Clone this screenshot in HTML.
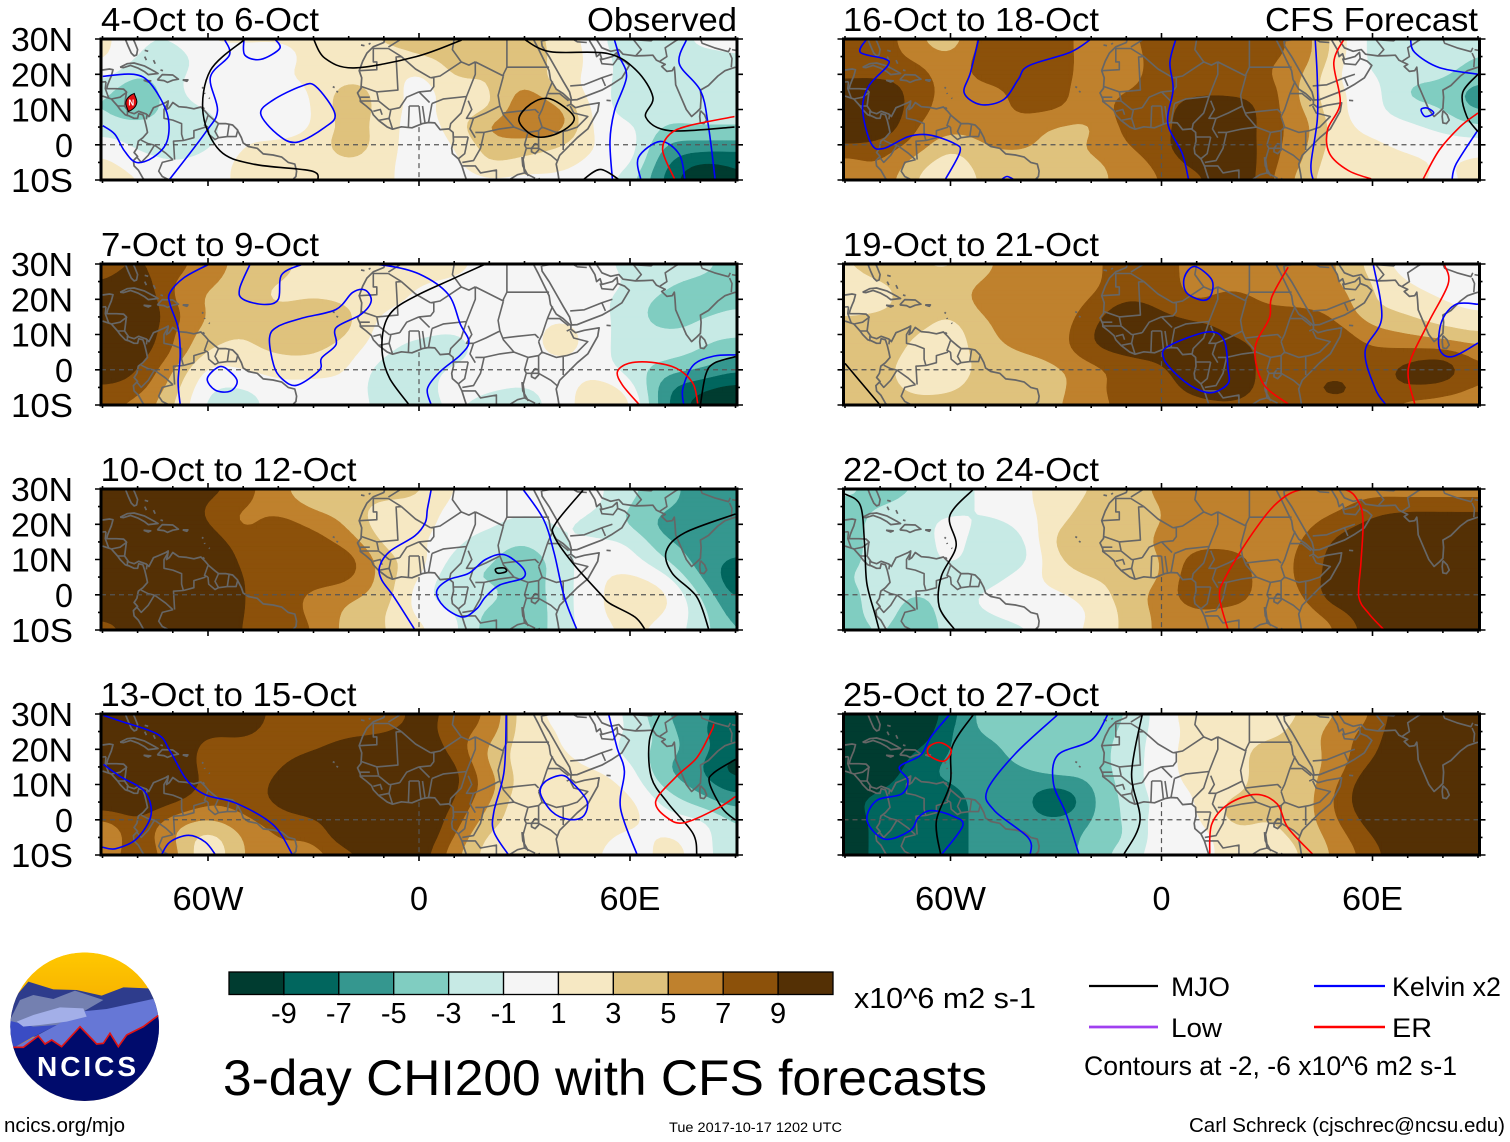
<!DOCTYPE html>
<html lang="en">
<head>
<meta charset="utf-8">
<title>3-day CHI200 with CFS forecasts</title>
<style>
html,body{margin:0;padding:0;background:#fff;}
svg{display:block;}
text{font-family:"Liberation Sans",sans-serif;fill:#000;}
</style>
</head>
<body>
<svg id="chart" xmlns="http://www.w3.org/2000/svg" width="1510" height="1142" viewBox="0 0 1510 1142">
  <rect x="0" y="0" width="1510" height="1142" fill="#fff"/>
  <g id="panels"></g>
  <g id="colorbar"></g>
  <text x="854" y="1008" font-size="29" textLength="182" lengthAdjust="spacingAndGlyphs">x10^6 m2 s-1</text>
  <text x="223" y="1095" font-size="50" textLength="764" lengthAdjust="spacingAndGlyphs">3-day CHI200 with CFS forecasts</text>
  <text x="4" y="1132" font-size="20" textLength="121" lengthAdjust="spacingAndGlyphs">ncics.org/mjo</text>
  <text x="669" y="1132" font-size="14" textLength="173" lengthAdjust="spacingAndGlyphs">Tue 2017-10-17 1202 UTC</text>
  <text x="1189" y="1132" font-size="20" textLength="316" lengthAdjust="spacingAndGlyphs">Carl Schreck (cjschrec@ncsu.edu)</text>
  <g>
    <line x1="1089" y1="986" x2="1158" y2="986" stroke="#000" stroke-width="2.2"/>
    <text x="1171" y="996" font-size="27" textLength="59" lengthAdjust="spacingAndGlyphs">MJO</text>
    <line x1="1314" y1="986" x2="1385" y2="986" stroke="#0000ff" stroke-width="2.2"/>
    <text x="1392" y="996" font-size="27" textLength="109" lengthAdjust="spacingAndGlyphs">Kelvin x2</text>
    <line x1="1089" y1="1027" x2="1158" y2="1027" stroke="#a040f0" stroke-width="2.8"/>
    <text x="1171" y="1037" font-size="27" textLength="51" lengthAdjust="spacingAndGlyphs">Low</text>
    <line x1="1314" y1="1027" x2="1385" y2="1027" stroke="#ff0000" stroke-width="2.4"/>
    <text x="1392" y="1037" font-size="27" textLength="40" lengthAdjust="spacingAndGlyphs">ER</text>
    <text x="1084" y="1075" font-size="27" textLength="373" lengthAdjust="spacingAndGlyphs">Contours at -2, -6 x10^6 m2 s-1</text>
  </g>
  <g>
    <defs>
      <clipPath id="logoClip"><circle cx="254" cy="290" r="223"/></clipPath>
      <linearGradient id="skyGrad" x1="0" y1="0" x2="0" y2="1"><stop offset="0" stop-color="#ffc800"/><stop offset="0.3" stop-color="#f8b400"/><stop offset="0.5" stop-color="#e89a10"/></linearGradient>
    </defs>
    <g transform="translate(0,930) scale(0.33333)" clip-path="url(#logoClip)">
      <circle cx="254" cy="290" r="223" fill="url(#skyGrad)"/>
      <polygon points="20,230 85,155 160,178 230,180 305,197 370,172 445,175 490,210 490,320 20,320" fill="#2e3c8c"/>
      <polygon points="20,290 60,210 100,195 160,207 225,182 310,210 250,245 170,285 40,300" fill="#7480b0"/>
      <polygon points="490,200 320,237 240,245 170,285 30,360 490,380" fill="#6677d6"/>
      <polygon points="20,270 100,290 170,285 100,320 30,360" fill="#3a4cc4"/>
      <polygon points="50,275 100,255 180,232 250,235 260,260 200,275 120,285 70,290" fill="#a3afe8"/>
      <polygon points="20,352 70,352 115,318 135,342 155,330 185,350 240,290 290,342 310,340 330,310 355,350 380,315 430,290 490,245 490,530 20,530" fill="#000b6c"/>
      <polyline points="20,352 70,352 115,318 135,342 155,330 185,350 240,290 290,342 310,340 330,310 355,350 380,315 430,290 490,245" fill="none" stroke="#e01414" stroke-width="5"/>
    </g>
    <text x="37" y="1076" font-size="28" font-weight="bold" textLength="99" lengthAdjust="spacing" style="fill:#fff">NCICS</text>
  </g>
</svg>
<script>
// ---- Grid axes of the CHI200 anomaly field ----
const lonGrid = [-90,-80,-70,-60,-50,-40,-30,-20,-10,0,10,20,30,40,50,60,70,80,90];
const latGrid = [30,25,20,15,10,5,0,-5,-10];
const levelsPos = [1,3,5,7,9];
const levelsNeg = [-1,-3,-5,-7,-9];
const colorbarColors = ['#003c30','#01665e','#35978f','#80cdc1','#c7eae5','#f5f5f5','#f6e8c3','#dfc27d','#bf812d','#8c510a','#543005'];
const colorbarLabels = ['-9','-7','-5','-3','-1','1','3','5','7','9'];
const latTicks = [30,20,10,0,-10];
const latTickLabels = ['30N','20N','10N','0','10S'];
const lonTicks = [-60,0,60];
const lonTickLabels = ['60W','0','60E'];
const panelTitles = ['4-Oct to 6-Oct','7-Oct to 9-Oct','10-Oct to 12-Oct','13-Oct to 15-Oct','16-Oct to 18-Oct','19-Oct to 21-Oct','22-Oct to 24-Oct','25-Oct to 27-Oct'];

// ---- CHI200 anomaly, rows by latGrid, columns by lonGrid ----
const chi1 = [
[1.5,-0.5,-0.5,1.2,1.5,1.5,1.5,2,3.5,3.5,4,4,4,2,0,-3,-3,0,-0.5],
[1.5,-1,-2.2,0,0,0,1.5,2,2,3.2,3.5,4,4,2.5,0.3,-2,-2,-2,-1],
[0,-2.5,-1.5,0,0,1,1.5,2,2,0.5,3.5,3,4,2,0.3,-2,-2,-2,-2],
[-2.5,-5,-1.5,0,0,0,1.2,4,2,0.5,1.5,3,5.5,2.5,0,-2,-2,-2,-2],
[-3,-4.5,-2,-1,0,0,1,4.5,2,0.5,2,2.5,6.5,5.5,0.5,-2,-2.2,-2,-2],
[-2,-2,-2,-1.5,0,0,1,3.5,2,0,2,6,6.5,6,0.5,-0.5,-3,-3,-3],
[0,-1.5,-2,-1.5,1,1.5,2,4.5,2,0,1,3.5,4,3,1,0,-5,-5.5,-5.5],
[1.5,0,-0.8,0,1.5,1.5,1.5,2.5,1.5,0,0.5,3.5,2.5,1.5,0.5,-0.5,-6.5,-9,-9],
[2,1.2,0,0,1.5,1.5,1.5,1.5,1.5,-0.2,0,0,0,0.5,0,-2.5,-7.5,-11,-9]];
const chi2 = [
[8,9,8,6,4.5,4,2,2,2,2,2,0,0,0,0,-2,-2,-2,-4],
[9,10,7,5.5,4,3,2,2,2,1.2,0.5,0,0,0,0,-1,-2.5,-3.5,-4],
[10,11,7,4.5,4,2.5,3,2.5,2,0.5,0,0,0,0,-0.5,-2,-3.5,-4,-3.5],
[11,11,8,5,4,4,4.5,3.5,0.5,0,0,0,0,0.5,-0.2,-2,-4,-3,-2.5],
[11,11,7,4,3,4.5,4.5,3,0,-0.5,-1,0,0,2,0,-2,-2.5,-2.5,-2.5],
[11,10,7,3,2.5,3,3,1.5,-0.5,-2,-2,0,0,1.5,0,-2,-2,-3,-4.5],
[10,9,5,0.5,1,2,2,1,-2,-2,-0.5,0,0,0,0,-2,-4,-5,-6.5],
[9,8,4,-0.5,-1,0,0,0,-2,-2,0,-0.5,-1,0,2,0,-6.5,-8.5,-9.5],
[7,6,3,-1.5,-2,0,0,0,-1.5,-1.5,-1,-2,-2,0,2,1.5,-6.5,-10,-12]];
const chi3 = [
[11,11,11,10,8,5.5,4,4,4.5,3.5,1,0,0,0,-0.5,-2.5,-4,-6,-6],
[11,11,11,8.5,7,6,4.5,4,2,2,0.5,0,0,0,-0.5,-3,-4.5,-6,-7],
[11,11,11,9,6.5,8,6.5,4.5,2,2,0,-0.5,-2,-1,-2,-3.5,-6,-6.5,-6.5],
[11,11,11,10.5,8,8,8,6,2.5,1.2,-0.5,-2,-2.5,-1,-0.5,-1,-4.5,-6,-6.5],
[11,11,11,11,8.5,8,8,8,4,2,-1.5,-2.5,-4.5,-2,0,-0.5,-3,-6,-7],
[11,11,11,11,9,8,8,7.5,4,1,-2.5,-3.5,-4,-2,0.5,1.5,-0.5,-5,-8.5],
[11,11,11,11,9,8,6.5,5.5,4,0,-2.5,-2,-4,-2,0.5,2,1.5,-3,-7.5],
[11,11,11,11,9,8,6.5,4.5,3,0.5,-0.8,-3.5,-4.5,-2,0.5,2,1,-2,-6],
[6.5,11,11,11,8.8,8,7,4.2,3.2,1.5,-0.5,-4,-4.5,-2,0,1.2,0,-2,-5]];
const chi4 = [
[8,11,11,11,11,8,6.5,8,8,9.5,8.5,6.5,2,0.5,0,-1.5,-5,-6,-9],
[11,11,11,9.5,9.5,8,8,8,8.5,9.5,8,6,2,1,0,-1,-4,-7,-8],
[11,11,11,8,8,8,8.5,10.5,11,11,8,4.5,2,1,0,-2,-3.8,-6,-8],
[11,11,11,8,8,8.8,11,11,11,11,9.5,5,2,1.5,1,-0.5,-5,-7,-10.5],
[11,11,11,8.5,8,9.5,11,11,11,11,9.5,6,2,0.5,1.5,0.3,-3.5,-6,-8],
[11,11,9.5,7.5,8,9.5,11,11,11,11,9,5,1.5,2,2,1.5,-1.5,-4,-6],
[6.5,8.5,6,5,6.5,8,8.6,11,11,11,8,4,1.8,2,2,1.5,0,-0.5,-3],
[5,8,5,2,5,7,7.5,11,11,11,7,2.5,2,1.5,1.5,0.5,1.2,0,-3],
[6,8,6,1.5,5,6.5,6,8,10,10,5.5,2,1.5,1.5,1.2,0,1.5,0.3,-3]];
const chi5 = [
[8,8,5.5,3.5,8,8,8,6,6.5,8,8,8,7.8,6,2,-1.5,-2,-2,-2.5],
[8,8,6.5,5.5,8,8,8,6,6,8,8,8,7.5,6,2,-1.5,-2,-2,-3],
[8,8,8,6,8,8,8,6,6,8,8,8,7,5,1,-1,-2,-2.5,-4],
[11,11,8,6.5,6,7.5,7.5,6,7,8,8,8,8,4.5,1.5,0,-3.5,-4,-6],
[11,11,8,6,6,7.5,7.5,6,8,8,11,11,8,5,1.5,-0.5,-2,-3,-5.5],
[11,11,7,6,6,6,4.5,4.5,7.5,8,11,11,8,6,2,0.3,-0.5,-1.5,-2.5],
[9,8,6.5,3.5,5,5.5,4.5,5.5,7,8.5,11,11,8,5.5,2,1.5,0.5,0,0],
[6,7,4,2,4,4,4,4.5,6,7.5,10,11,8,5,1.5,1.5,1.5,1,1.5],
[6,6,3,1.2,3.5,4,4,4,6,7,8,11,7.5,4,1.5,1.5,1.5,0.5,1.5]];
const chi6 = [
[3,4,3,2.5,4.5,6,6,6.5,8,8,6,6,6,6,5,2,0,0,0],
[2,3,4,4,5.2,6,6,6.5,8,8,6,6,6,6,5,3,1,0,0],
[2,2,4,4,6,6,6,7,8.5,8,7,8,6.5,6,6,3,2,1,0],
[3,3.5,4,3,5,6,6,8,11,9.5,8,8,8,8,6.5,4,3,2,1.5],
[4,4,3,2,4.5,6,6,9,11,11,11,8.5,8,8,8,6,5,4,3],
[4,4,2.5,2,4,5,6,8.5,9.5,10,11,11,8,8,8,7.5,7.5,7.5,6.5],
[4,3.5,2,2,3.5,4,4.5,6,7.5,8.5,11,11,8,8,8,8,10,11,7],
[4,4,2.2,2.5,4,4,4.5,6.5,8,8,10,11,8,8.5,10,8,9,8,7],
[4,4,4,4,4,4,5,5.5,8,8,8,8,8,8,8,8,6,6,5.5]];
const chi7 = [
[-2,-4,-3,-2,-0.5,0.5,2,3,4,5.5,6,6,4.5,6,6,6,6,6,6],
[-4,-3,-2,-2,-0.5,0.5,2,3.5,4,5,6,6,6,6,6.5,8,8,8,8],
[-4,-2,-2,0,-1.5,-0.5,2.5,4,4,5,6,6,6,6.5,8,9.5,11,11,11],
[-4,-2,-2,-0.5,-2,-1.5,3.5,4,4,5.5,6,6,6,7,9.5,11,11,11,11],
[-4,-2,-2,-0.5,-2,-2,2.5,4,4,5,8,8,6,7.5,10,11,11,11,11],
[-3,-2,-2,-2,-2,0,2,3,3.5,5,8.5,8.5,6,7.5,10,11,11,11,11],
[-4,-2,-3,-2,-0.5,0,0.5,2,4,6,8.5,8.5,6,7,11,11,11,11,11],
[-4,-2,-4,-2,-1,0,0,1,3.5,5.5,6.5,6,6,6,8,11,11,11,11],
[-4,-3,-4,-2.5,-2,-1.5,0,1.5,3.5,5.5,6,6,6,6,7,10,11,11,11]];
const chi8 = [
[-8,-11,-11,-8,-4,-4,-4,-4,-3,0,2,2,2,3,5,7,11,11,11],
[-11,-11,-11,-7,-4.5,-4,-4,-4,-2.5,0,1.5,2,2,4,6,8,11,11,11],
[-11,-11,-9,-7,-6,-4,-4,-4,-2,0,2,2,4,4,6,8.5,11,11,11],
[-11,-11,-8,-6.5,-6,-5,-4,-4,-2,0,2,2,4,4,6,9.5,11,11,11],
[-11,-9.5,-7.5,-7,-6,-6,-6,-5,-2,0,1.5,2,4,4,7,11,11,11,11],
[-9.5,-8,-8,-8,-6,-6,-10,-5.5,-2.5,-0.5,1,3.5,3.5,4,7.5,11,11,11,11],
[-11,-8,-8,-8,-6,-6,-6,-5,-2.5,0,0.8,3.5,3,4,7,10,11,11,11],
[-11,-8,-8,-8,-6,-6,-6,-4.5,-3,0,0,2,2.5,3.5,6,9,11,11,11],
[-11,-8,-8,-8,-6,-6,-6,-4,-1.8,0,0,2,2,3,5.5,8,11,11,11]];
const chiFields = [chi1,chi2,chi3,chi4,chi5,chi6,chi7,chi8];

// ---- Filtered-wave contours: lists of [lon,lat] curves for each panel ----
const kelvin1 = [
[[-89.9,19.4],[-81.1,20],[-76.3,17.3],[-71.6,8.8],[-71.6,1.1],[-75.6,-3.6],[-80.4,-5],[-83.8,-1.7],[-86.5,3],[-89.9,5.4]],
[[-70.9,-9.8],[-60.7,3.5],[-57.3,9.7],[-59.3,19.2],[-53.9,25.4],[-55.2,29.7]],
[[-49.8,29.7],[-49.5,25.4],[-45,24.2],[-39.6,27.3],[-41,30]],
[[-45,8.8],[-41.6,12.6],[-33.5,16.6],[-29.4,16.6],[-23.9,8.8],[-26.7,5],[-34.8,0.7],[-40.3,3],[-45,8.8]],
[[55,-9.8],[54.3,1.1],[55.6,9.7],[59,19.2],[57,25],[55.6,29.7]],
[[76,29.7],[74,23],[80,15.4],[82.2,5.9],[84.2,-9.8]],
[[63.1,-10],[62.4,-3.6],[68.6,0.95],[74,-2.7],[75.6,-9.8]]];
const mjo1 = [
[[-49.8,29.7],[-59.3,21.1],[-61.4,8.8],[-56.6,-1.7],[-47.1,-5.5],[-30.7,-7.4],[-28.7,-10]],
[[-30,30],[-26.7,24.5],[-18.5,21.8],[-0.8,25],[12.1,29.7]],
[[29.8,30],[37.3,26.4],[53.6,25.9],[61.8,21.1],[66.5,13.5],[64.5,7.8],[71.3,4],[89.7,5]],
[[28.4,6.9],[31.8,11.6],[37.3,13],[44.1,7.8],[40,3.5],[33.2,2.3],[28.4,6.9]],
[[46.8,-9.8],[51.6,-7],[57,-10]]];
const er1 = [
[[72.7,-9.8],[69.3,-1.7],[71.3,3],[76.7,5.4],[89.7,8]]];

const kelvin2 = [
[[-59.6,30],[-66.7,26.2],[-70.8,21.9],[-70.8,18.6],[-68.5,11.9],[-67.9,4.2],[-68.5,-3.4],[-67.9,-9.9]],
[[-48,30],[-51,23],[-50,20],[-44,18.5],[-40,20],[-39,27],[-33,30]],
[[-20,30],[-9.5,29.6],[0,27.2],[8.3,21.4],[11.8,12.8],[14.2,8],[11.8,4.2],[5.9,-0.6],[2.4,-5.4],[3.5,-10]],
[[-42.5,9],[-41.3,1.3],[-39,-2.5],[-34.8,-4.4],[-28.3,-0.1],[-27.7,3.3],[-23.6,7.1],[-23.6,11.9],[-16.5,15.7],[-13.6,19.5],[-15.3,22.6],[-18.9,21.9],[-23.6,17.1],[-33,14.7],[-40.1,12.3],[-42.5,9]],
[[-56.7,0.9],[-60.2,-2.5],[-57.9,-5.8],[-53.7,-6.1],[-51.7,-3.4],[-53.7,-0.6],[-56.7,0.9]],
[[75.3,-10],[75,-5.4],[78,1.3],[84,3.9],[90,4.2]]];
const mjo2 = [
[[18.9,30],[9.4,25.7],[0,21.4],[-7.1,17.1],[-10,11.9],[-10.4,4.2],[-8.3,-2.5],[-3,-9.7]],
[[80,-10],[81.5,-1.5],[83.8,1.8],[90,3.7]]];
const er2 = [
[[62.6,-9.9],[57.9,-4.4],[56.4,-0.6],[59.6,1.8],[66.1,2.1],[73.2,0.4],[77.9,-3.9],[79.3,-9.9]]];

const kelvin3 = [
[[3.5,30],[2.4,24.3],[1.8,20.5],[-1.2,16.7],[-8.3,12.3],[-11.2,8],[-10.6,4.2],[-7.1,-0.6],[-1.2,-9.9]],
[[24.2,11.4],[29.5,7.6],[29.5,4.7],[23,2.8],[18.9,-0.6],[16.5,-3.9],[12.4,-6.3],[7.1,-3.4],[5,0.9],[8.3,4.2],[14.2,6.1],[18.9,10],[24.2,11.4]],
[[29.5,30],[35.4,21.4],[38.4,11.9],[41.3,-0.6],[44.9,-9.9]]];
const mjo3 = [
[[21.8,7.3],[24.2,7.6],[24.8,6.6],[22.4,6.1],[21.8,7.3]],
[[46.6,29.6],[39,20.5],[38.4,16.7],[43.7,9],[51.9,-0.1],[54.3,-2.5],[61.4,-6.3],[64.3,-9.9]],
[[90,22.9],[75.6,17.6],[70.3,12.3],[72,6.1],[79,-0.6],[82.4,-9.9]]];
const er3 = [];

const kelvin4 = [
[[-89.7,29.6],[-85.6,28.2],[-74.4,24.3],[-70.8,19.5],[-66.1,11.4],[-60.8,7.1],[-52,4.7],[-41.4,-1.5],[-36,-9.9]],
[[-89.7,15.7],[-85,12.3],[-78,8],[-76.2,1.3],[-80.3,-5.4],[-86.2,-8.2],[-90,-7.8]],
[[-73.2,-9.9],[-70.8,-6.3],[-65.5,-4.4],[-60.8,-6.3],[-57.9,-9.9]],
[[24.8,30],[24.2,13.8],[21.3,2.3],[21.3,-3.4],[25.4,-9.9]],
[[40.7,12.6],[43.7,10.4],[47.8,5.2],[46.6,0.9],[42.5,0.1],[37.8,2.3],[34.5,7.6],[36,10.9],[40.7,12.6]],
[[53.9,30],[56.3,20.5],[58.4,13.8],[57.3,3.3],[62,-9.9]]];
const mjo4 = [
[[68.5,30],[65.5,22.4],[66.1,11.9],[70.8,4.7],[77.9,-3.9],[79,-9.9]],
[[90,17.1],[83.8,13.3],[82.6,10.4],[86.2,3.3],[90,-0.1]]];
const er4 = [
[[83.8,27.2],[83.2,25.3],[79,17.6],[73.2,12.3],[67.3,5.2],[70.8,0.4],[75.6,-0.8],[85,3.3],[90,6.6]]];

const kelvin5 = [
[[-83.8,30],[-85.6,26.2],[-78.5,24.3],[-77.9,22.4],[-83.2,16.7],[-85,10],[-82.6,0.4],[-79.1,-1.1],[-72,2.3],[-66.1,2.8],[-59,0.4],[-57.3,-2],[-61.4,-9.7]],
[[-52,30],[-54.3,20.5],[-56.1,14.7],[-51.4,11.4],[-44.9,12.8],[-40.7,18.6],[-37.8,22.4],[-26,26.2],[-20,30]],
[[-45.5,-9.9],[-43.9,-9],[-41.9,-9.9]],
[[4.1,30],[2.4,23.3],[3.3,15.7],[1.8,6.1],[5.9,-2.5],[7.7,-9.9]],
[[43.7,30],[44.3,18.6],[44.3,7.1],[42.5,-5.4],[43.1,-9.9]],
[[70.8,30],[72,26.2],[79,21.9],[90,20]],
[[73.8,10],[75.6,10.4],[77.4,9],[75,8],[73.8,10]],
[[82.6,-9.9],[83.8,-5.4],[90,4.2]]];
const mjo5 = [
[[90,20],[85.6,14.7],[86.8,8],[90,3.7]]];
const er5 = [
[[51.9,30],[49,23.3],[50.8,11.9],[47.2,4.2],[47.8,-2.5],[53.1,-7.3],[59.6,-9.7]],
[[74.4,-9.7],[79,-1.5],[85,5.2],[90,9]]];

const kelvin6 = [
[[9.4,29.3],[14.2,25.7],[14.2,21.4],[11.8,19.7],[7.1,21.9],[6.5,26.2],[9.4,29.3]],
[[13,10.7],[17.7,8.5],[18.9,0.4],[18.9,-3.9],[14.2,-6.5],[8.9,-4.9],[3.5,-0.6],[0.6,3.3],[1.8,6.6],[13,10.7]],
[[60.2,30],[62.6,14.7],[57.9,5.2],[60.8,-5.4],[63.8,-9.9]],
[[90,18.6],[83.8,18.6],[79.7,13.8],[79,6.1],[82.6,3.7],[90,7.6]]];
const mjo6 = [
[[-90,1.8],[-80.3,-9.7]]];
const er6 = [
[[36,29.1],[31.3,20.5],[30.7,14.7],[26.6,6.1],[28.9,-3.9],[36,-9.7]],
[[80.5,29.6],[81.5,24.3],[75.6,12.8],[70.2,0.4],[72,-9.7]]];

const kelvin7 = [];
const mjo7 = [
[[-90,28.6],[-85.6,25.3],[-84.4,13.8],[-83.8,3.3],[-81.5,-5.4],[-80.3,-9.9]],
[[-53.4,30],[-60.2,22.4],[-58.4,13.8],[-62.6,5.2],[-63.2,-3.4],[-58.8,-9.9]]];
const er7 = [
[[18.9,-9.9],[16.5,-0.6],[18.3,5.2],[26,17.6],[33,26.2],[40.1,29.9],[51.9,29.9],[56.1,26.2],[57.3,20.5],[56.7,9],[56.1,-0.6],[59,-5.4],[63.2,-9.9]]];

const kelvin8 = [
[[-60.1,30],[-65.5,23.6],[-68.5,18.3],[-74.5,15],[-72.1,11.2],[-73.9,7.3],[-81.1,5.4],[-83.7,-0.3],[-78.7,-5.5],[-71.5,-3.1],[-69.1,0.7],[-65.5,2.6],[-59.5,1.1],[-56.5,-1.7],[-62.5,-9.8]],
[[-29.5,29.8],[-41.5,18.8],[-49.6,8.3],[-47.5,2.6],[-37.9,-5.1],[-37.3,-9.8]],
[[-15.3,29.8],[-19.9,22.6],[-29.5,18.3],[-30.7,10.2],[-27.1,1.6],[-23.5,-9.8]]];
const mjo8 = [
[[-53.5,29.8],[-59.5,20.7],[-60.1,10.2],[-64,-0.3],[-62.8,-9.8]],
[[-5.5,29.8],[-8.5,13],[-6.1,-0.3],[-10.7,-9.8]]];
const er8 = [
[[-63,21.9],[-59.8,19.8],[-61.9,16.6],[-66.1,18.3],[-66.1,20.7],[-63,21.9]],
[[13.7,-9.8],[14.3,-1.2],[19.1,4.5],[26.9,7.2],[32.9,4.5],[35.9,-2.2],[43,-9.8]]];

const kelvinContours = [kelvin1,kelvin2,kelvin3,kelvin4,kelvin5,kelvin6,kelvin7,kelvin8];
const mjoContours = [mjo1,mjo2,mjo3,mjo4,mjo5,mjo6,mjo7,mjo8];
const erContours = [er1,er2,er3,er4,er5,er6,er7,er8];

// Tropical-cyclone marker in the first panel: longitude, latitude
const cycloneLon = -81.8;
const cycloneLat = 12;

// ---- Map outlines as [lon,lat] polylines ----
const coastlines = [
[[-83.5,30],[-82.7,28],[-81.8,26],[-81,25.2],[-80.3,25.5],[-80,27],[-80.8,29],[-81.3,30]],
[[-90,21.2],[-88,21.5],[-87,21.3],[-87.5,19.5],[-88,18.3],[-88.5,17],[-88.8,15.9],[-86,15.9],[-84,15.8],[-83.2,15],[-83.5,12.5],[-83.7,11],[-82.5,9.3],[-81,8.8],[-79.7,9.5],[-77.5,8.7],[-76.8,8],[-75.5,10.5],[-74.3,11],[-72,12],[-71.3,12.4],[-71.5,11],[-71.8,10],[-71,10.5],[-70,12],[-68.3,10.8],[-66,10.6],[-64,10.2],[-62,10.7],[-60.8,9.5],[-59.8,8.3],[-58,6.8],[-57,6],[-55,6],[-53,5.6],[-51.7,4.3],[-50.5,2],[-50,0.5],[-48.5,-0.5],[-46,-1],[-44.3,-2.6],[-41.5,-2.9],[-39,-3.5],[-37.2,-5],[-35.3,-5.5],[-34.8,-7.5],[-35,-9],[-36,-10]],
[[-90,13.8],[-87.5,13],[-85.7,11],[-85,10],[-83.5,8.5],[-82.5,8.2],[-81,7.5],[-80,7.5],[-79.7,8.8],[-78.5,8.5],[-78,7],[-77.5,5],[-77.2,3.5],[-78.5,2],[-79.8,1],[-80.2,-1],[-81,-2.2],[-80,-3.3],[-81.2,-4.5],[-81,-6],[-79.8,-7.2],[-78.5,-9.5],[-78,-10]],
[[-85,22],[-83,23],[-81,23.2],[-78,22.3],[-75,20.7],[-74.2,20.2],[-77,19.9],[-78,20.7],[-80,21.8],[-82,22.5],[-84,21.9],[-85,22]],
[[-74.4,18.4],[-73,19.9],[-70,19.8],[-68.4,18.6],[-70,18.3],[-71.5,17.7],[-72.5,18.2],[-74.4,18.4]],
[[-78.3,18.3],[-76.3,18.1],[-77,17.8],[-78.3,18.3]],
[[-67.2,18.4],[-65.7,18.4],[-66,18],[-67.2,18.4]],
[[-78,26.8],[-77,26.5]],[[-78,25],[-77.5,24]],[[-75.5,24],[-75,23]],[[-73.5,21.2],[-72.8,21]],
[[-61.7,16.3],[-61.3,16]],[[-61,14.7],[-60.9,14.4]],[[-59.7,13.3],[-59.5,13.1]],[[-61.5,10.6],[-61,10.2]],
[[-24.5,16.5],[-24,16.2]],[[-23.5,15.2],[-23,14.9]],[[-16.5,28.3],[-15.5,28.1]],[[-14.3,28.5],[-13.8,28.8]],
[[-9.7,30],[-10,29],[-13,27.8],[-14.8,26],[-16,23.7],[-17,21],[-16.3,19],[-16.5,16],[-17.5,14.7],[-16.7,13],[-16.7,12.3],[-15,11],[-13.5,9.7],[-13,8.5],[-11.5,6.9],[-9,5],[-7.5,4.4],[-5,5.1],[-2,4.8],[1,6],[2.7,6.3],[4.5,6.2],[6,4.3],[8.5,4.5],[9.7,3.5],[9.8,1],[9.3,-1],[9.5,-2.5],[11.2,-4],[12.2,-6],[13,-8.5],[13.5,-10]],
[[32.5,30],[33.8,27.5],[35.5,24],[37,21],[37.4,18.5],[39,15.8],[41,14.5],[43.2,12.5],[43.2,11.5],[44.5,10.5],[47,11.2],[51.2,11.9],[50.8,9.5],[48,4.5],[45,2],[42,-1],[40,-3],[39,-5.5],[39.5,-8],[39.8,-10]],
[[34.8,29.5],[35,28],[37,25],[39,21.5],[41,18],[42.8,15],[43.4,12.7],[45,12.8],[48,14],[52,15.5],[55,17.2],[57.7,19],[59.8,22.5],[58.5,23.7],[56.5,24.5],[56.3,26.2],[55,25],[52,24.2],[51.5,25.8],[50.5,25],[50,27],[48.5,29.5],[48.5,30]],
[[48.5,30],[50.5,29.8],[52,27.5],[54.5,26.5],[56.8,27],[58,25.7],[61.5,25.2],[64,25.3],[66.5,25.4],[67.5,24],[68.5,23.5],[70,22.8],[69,22.2],[70.5,20.8],[72,21],[72.6,22],[72.8,20],[73,17],[74.5,13.5],[76,10],[77.5,8],[79,9.3],[80,10.3],[80.2,13.5],[80,15.5],[82.3,16.8],[85,19.5],[87,21],[89,21.7],[90,22]],
[[80,9.7],[81.2,8.5],[81.8,7],[81,6],[80,6.2],[79.8,8],[80,9.7]],
[[53.3,12.6],[54.5,12.5]],
[[32,-1],[33,0.3],[34,0],[34,-1.5],[33,-2.5],[32,-2],[32,-1]],
[[29.3,-3.5],[29.5,-6],[31,-8.7],[30,-7],[29.5,-3.5]],
[[34,-9.5],[34.5,-10]]
];
const borders = [
[[25,30],[25,22]],[[25,22],[37,22]],[[25,22],[24,20],[24,19.5]],[[24,19.5],[16,23.5]],[[16,23.5],[14.2,22.6],[12,23.5]],
[[10,30],[9.5,27],[12,23.5]],[[12,23.5],[6,19.5],[3.3,19]],[[3.3,19],[-1,21.5],[-5,25]],[[-5,25],[-8.7,27.3]],[[-8.7,27.7],[-5,30]],
[[-8.7,27.3],[-13,27.3],[-13,23.5],[-12,23.5],[-12,21.3],[-17,21]],[[-5,25],[-6.5,24.9],[-6,15.5],[-12,15],[-16.3,16.5]],
[[-12,15],[-11.5,12.5]],[[-16.7,12.4],[-11.5,12.4]],[[-16.8,13.5],[-14,13.5]],[[-11.5,12.4],[-8.5,10],[-8,10]],
[[-5.5,10.5],[-3.5,13.5],[0,15]],[[0,15],[3.3,15.3],[4.2,16.5],[4.2,19]],[[0,15],[3,12]],[[-8.5,7.5],[-7.5,4.4]],[[-11.5,6.9],[-8.5,7.5]],
[[-13,9.5],[-11,10],[-10.5,8.5]],[[-8.5,7.5],[-8,10]],[[-8,10],[-5.5,10.5]],[[-3,5],[-2.8,11]],[[-2.8,11],[0,11]],[[0,11],[0.5,6]],[[1,11],[1.7,6.2]],
[[2.7,6.3],[3.7,11.7]],[[3.7,11.7],[7,13],[13.5,13.7]],[[13.5,13.7],[16,20],[16,23.5]],[[13.5,13.7],[12,9],[9,6],[8.7,4.5]],[[14,12.5],[15,10],[13.5,7.5],[15.5,7.5]],
[[15.5,7.5],[19,9],[23,11]],[[24,19.5],[22.5,14],[23,11]],[[15.5,7.5],[14.5,4.5],[16,2]],[[18.5,3.5],[23,4.5],[27,5]],[[23,11],[24,8.5],[27,5]],
[[36.5,14.5],[35,10],[34,8]],[[24,9],[28,9.5],[33,10],[34,9]],[[34,8],[35,5]],[[27,5],[31,3.5],[34,4],[35,5]],[[36.5,14.5],[38,18]],[[36.5,14.5],[40,14.5],[42.5,12.5]],
[[42,11],[43.2,11.5]],[[43,11],[44,9],[48,8],[45,5],[42,4]],[[35,5],[39,3.5],[42,4]],[[41,4],[41,-1.5]],[[34,4],[34,1],[34,-1]],[[34,-1],[37.5,-3],[39.5,-4.7]],
[[30.5,-1],[34,-1]],[[31,3.5],[30,0],[30.5,-1]],[[30.5,-1],[29.5,-4.5],[30,-8],[33,-9.5]],[[9.7,2.2],[14,2.2]],[[14,2.2],[13,-2.5],[11.2,-4]],[[16,3.5],[18.5,3.5]],
[[18.5,3.5],[17.5,-1],[15.5,-4.5],[12.3,-5]],[[12.3,-6],[16,-6],[17.5,-8],[22,-7.2],[22,-11]],[[22,-10],[24,-11],[28,-8.5],[30,-8]],
[[68.5,23.7],[70.5,25],[70,27.5],[73,29.5],[74,30]],[[80,30],[80.5,28.8],[84,27.5],[88,26.4],[88.5,27.5]],[[89,27],[90,26.8]],[[88.3,26],[89,24.5],[88.8,22]],
[[61.6,25.2],[63.2,27],[61,29.8],[61,30]],[[61,29.8],[66,29.5],[68,31]],[[56.5,24.5],[55.2,22.7],[52,23],[51.5,24.5]],[[43,16.7],[47,17],[52,19],[55,20]],[[52,19],[53,16.7]],
[[47.7,29],[45,29.2],[42,31]],[[35,29.5],[37,29.8]],
[[-71.3,12],[-72.5,10],[-72.5,7.5],[-70,7],[-67.5,6],[-67.5,3],[-67,1.2]],[[-67,1.2],[-69.8,1],[-69.5,-4.2]],[[-79,1.3],[-77,0.3],[-75.2,-0.1]],[[-75.2,-0.1],[-72,-2.4],[-70,-4.2]],
[[-80.3,-3.4],[-79,-5],[-77,-3],[-75.2,-0.1]],[[-69.9,-4.2],[-73,-5],[-74,-7.5],[-73,-9],[-71,-10]],[[-60,8.3],[-61,5.5],[-60,5]],[[-67,1.2],[-64,2],[-64,4],[-60.7,5]],
[[-60,5],[-59.8,3],[-58,1.5],[-57,2]],[[-57,6],[-58,3.8],[-57,2]],[[-54,5.8],[-54.5,2.3]],[[-57,2],[-54.5,2.3],[-52,2.3],[-51.5,4.3]],[[-77.3,8.7],[-77.5,7.2]],
[[-83.7,11],[-85.7,11]],[[-83,15],[-85,13.5],[-87.3,13]],[[-89,17.9],[-89.2,15.9],[-88.2,13.2]],[[-90,17.8],[-89,17.9]],[[-82.9,9.6],[-82.9,8.1]]
];

// ---- Axis functions ----
const NS = 'http://www.w3.org/2000/svg';
const PANEL_W = 636, PANEL_H = 141, PX_PER_DEG = 3.517;
function panelCenter(i){ return i < 4 ? 419 : 1161.5; }
function panelLeft(i){ return panelCenter(i) - PANEL_W/2; }
function panelTop(i){ return 39 + 225 * (i % 4); }
function xScale(i, lon){ return panelCenter(i) + lon * PX_PER_DEG; }
function yScale(i, lat){ return panelTop(i) + (30 - lat) * PANEL_H / 40; }
function el(tag, parent){ const e = document.createElementNS(NS, tag); parent.appendChild(e); return e; }
function cr(a,b,c,d,t){ return 0.5*((2*b)+(-a+c)*t+(2*a-5*b+4*c-d)*t*t+(-a+3*b-3*c+d)*t*t*t); }
function upsample(field, subLon, subLat){
  const nr = field.length, nc = field[0].length;
  const fine = [];
  for(let r = 0; r < (nr-1)*subLat+1; r++){
    const ry = r/subLat, r1 = Math.min(Math.floor(ry), nr-2), ty = ry-r1;
    const row = [];
    for(let c = 0; c < (nc-1)*subLon+1; c++){
      const cx = c/subLon, c1 = Math.min(Math.floor(cx), nc-2), tx = cx-c1;
      const v = [];
      for(let k = -1; k <= 2; k++){
        const rr = field[Math.max(0,Math.min(nr-1,r1+k))];
        v.push(cr(rr[Math.max(0,c1-1)], rr[c1], rr[c1+1], rr[Math.min(nc-1,c1+2)], tx));
      }
      row.push(cr(v[0],v[1],v[2],v[3],ty));
    }
    fine.push(row);
  }
  return fine;
}
// Box smoothing of the interpolated field so contour edges read as smooth curves
function smooth(g, rad){
  const nr = g.length, nc = g[0].length;
  const a = g.map(row => row.map((_, c) => {
    let s = 0, n = 0;
    for(let k = -rad; k <= rad; k++){ s += row[Math.max(0,Math.min(nc-1,c+k))]; n++; }
    return s/n;
  }));
  return a.map((row, r) => row.map((_, c) => {
    let s = 0, n = 0;
    for(let k = -rad; k <= rad; k++){ s += a[Math.max(0,Math.min(nr-1,r+k))][c]; n++; }
    return s/n;
  }));
}
function f1(v){ return v.toFixed(1); }
function bandPath(i, fine, level, subLon, subLat){
  const inside = level > 0 ? (v => v >= level) : (v => v <= level);
  const dLon = (lonGrid[1]-lonGrid[0])/subLon, dLat = (latGrid[0]-latGrid[1])/subLat;
  let d = '';
  for(let r = 0; r < fine.length-1; r++){
    const la0 = latGrid[0]-r*dLat, la1 = la0-dLat;
    let run = -1;
    const nc = fine[r].length-1;
    for(let c = 0; c <= nc; c++){
      const full = c < nc && inside(fine[r][c]) && inside(fine[r][c+1]) && inside(fine[r+1][c]) && inside(fine[r+1][c+1]);
      if(full){ if(run < 0) run = c; continue; }
      if(run >= 0){
        const x0 = xScale(i, lonGrid[0]+run*dLon), x1 = xScale(i, lonGrid[0]+c*dLon);
        d += 'M'+f1(x0)+' '+f1(yScale(i,la0))+'H'+f1(x1)+'V'+f1(yScale(i,la1))+'H'+f1(x0)+'Z';
        run = -1;
      }
      if(c === nc) break;
      const lo0 = lonGrid[0]+c*dLon, lo1 = lo0+dLon;
      const q = [[lo0,la0,fine[r][c]],[lo1,la0,fine[r][c+1]],[lo1,la1,fine[r+1][c+1]],[lo0,la1,fine[r+1][c]]];
      const poly = [];
      for(let k = 0; k < 4; k++){
        const a = q[k], b = q[(k+1)%4], ia = inside(a[2]), ib = inside(b[2]);
        if(ia) poly.push([a[0],a[1]]);
        if(ia !== ib){
          const t = (level-a[2])/(b[2]-a[2]);
          poly.push([a[0]+(b[0]-a[0])*t, a[1]+(b[1]-a[1])*t]);
        }
      }
      if(poly.length > 2){
        d += poly.map((p,n) => (n?'L':'M')+f1(xScale(i,p[0]))+' '+f1(yScale(i,p[1]))).join('')+'Z';
      }
    }
  }
  return d;
}
function polyPath(i, lines){
  return lines.map(l => l.map((p,n) => (n?'L':'M')+f1(xScale(i,p[0]))+' '+f1(yScale(i,p[1]))).join('')).join('');
}
function smoothPath(i, pts){
  const P = pts.map(p => [xScale(i,p[0]), yScale(i,p[1])]);
  const closed = pts.length > 3 && pts[0][0] === pts[pts.length-1][0] && pts[0][1] === pts[pts.length-1][1];
  const n = P.length;
  const at = k => closed ? P[((k%(n-1))+(n-1))%(n-1)] : P[Math.max(0,Math.min(n-1,k))];
  let d = 'M'+f1(P[0][0])+' '+f1(P[0][1]);
  for(let k = 0; k < n-1; k++){
    const p0 = at(k-1), p1 = at(k), p2 = at(k+1), p3 = at(k+2);
    d += 'C'+f1(p1[0]+(p2[0]-p0[0])/6)+' '+f1(p1[1]+(p2[1]-p0[1])/6)+' '+f1(p2[0]-(p3[0]-p1[0])/6)+' '+f1(p2[1]-(p3[1]-p1[1])/6)+' '+f1(p2[0])+' '+f1(p2[1]);
  }
  return d + (closed ? 'Z' : '');
}
function colorFor(level){
  const idx = level > 0 ? 6 + levelsPos.indexOf(level) : 4 - levelsNeg.indexOf(level);
  return colorbarColors[idx];
}
function addText(parent, x, y, size, str, width, anchor){
  const t = el('text', parent);
  t.setAttribute('x', x);
  t.setAttribute('y', y);
  t.setAttribute('font-size', size);
  if(anchor) t.setAttribute('text-anchor', anchor);
  if(width){ t.setAttribute('textLength', width); t.setAttribute('lengthAdjust', 'spacingAndGlyphs'); }
  t.textContent = str;
  return t;
}

// ---- Draw panels ----
const root = document.getElementById('panels');
chiFields.forEach((field, i) => {
  const L = panelLeft(i), T = panelTop(i);
  const g = el('g', root);
  
  

  const clip = el('clipPath', g);
  clip.setAttribute('id', 'clip'+i);
  const cr0 = el('rect', clip);
  cr0.setAttribute('x', L); cr0.setAttribute('y', T); cr0.setAttribute('width', PANEL_W); cr0.setAttribute('height', PANEL_H);

  const inner = el('g', g);
  inner.setAttribute('clip-path', 'url(#clip'+i+')');
  
  

  const bg = el('rect', inner);
  
  
  bg.setAttribute('x', L); bg.setAttribute('y', T); bg.setAttribute('width', PANEL_W); bg.setAttribute('height', PANEL_H);
  bg.setAttribute('fill', colorbarColors[5]);

  const fine = smooth(smooth(upsample(field, 8, 4), 2), 2);
  levelsPos.concat(levelsNeg).forEach(level => {
    const d = bandPath(i, fine, level, 8, 4);
    if(!d) return;
    const p = el('path', inner);
    
    
    p.setAttribute('d', d);
    p.setAttribute('fill', colorFor(level));
    p.setAttribute('stroke', colorFor(level));
    p.setAttribute('stroke-width', '0.5');
  });

  const coast = el('path', inner);
  
  
  coast.setAttribute('d', polyPath(i, coastlines));
  coast.setAttribute('fill', 'none');
  coast.setAttribute('stroke', '#666');
  coast.setAttribute('stroke-width', '1.7');
  coast.setAttribute('stroke-linejoin', 'round');

  const bord = el('path', inner);
  
  
  bord.setAttribute('d', polyPath(i, borders));
  bord.setAttribute('fill', 'none');
  bord.setAttribute('stroke', '#666');
  bord.setAttribute('stroke-width', '1.6');
  bord.setAttribute('stroke-linejoin', 'round');

  const eq = el('line', inner);
  
  
  eq.setAttribute('x1', L); eq.setAttribute('x2', L+PANEL_W);
  eq.setAttribute('y1', yScale(i,0)); eq.setAttribute('y2', yScale(i,0));
  eq.setAttribute('stroke', '#555'); eq.setAttribute('stroke-width', '1.2'); eq.setAttribute('stroke-dasharray', '5 4');

  const pm = el('line', inner);
  
  
  pm.setAttribute('x1', xScale(i,0)); pm.setAttribute('x2', xScale(i,0));
  pm.setAttribute('y1', yScale(i,5)); pm.setAttribute('y2', yScale(i,-10));
  pm.setAttribute('stroke', '#555'); pm.setAttribute('stroke-width', '1.2'); pm.setAttribute('stroke-dasharray', '5 4');

  [[kelvinContours,'#0000ff','kelvin-contour'],[mjoContours,'#000000','mjo-contour'],[erContours,'#ff0000','er-contour']].forEach(set => {
    set[0][i].forEach(curve => {
      const c = el('path', inner);
      
      
      c.setAttribute('d', smoothPath(i, curve));
      c.setAttribute('fill', 'none');
      c.setAttribute('stroke', set[1]);
      c.setAttribute('stroke-width', '1.6');
    });
  });

  if(i === 0){
    const cx = xScale(i, cycloneLon), cy = yScale(i, cycloneLat);
    const ts = el('g', inner);
    
    
    ts.setAttribute('transform', 'translate('+cx+','+cy+')');
    const body = el('path', ts);
    
    
    body.setAttribute('d', 'M3,-9C0,-8 -5,-5 -5.5,0C-6,3 -4,5 -3,9C0,8 5,5 5.5,0C6,-3 4,-5 3,-9Z');
    body.setAttribute('fill', '#e01010');
    body.setAttribute('stroke', '#000');
    body.setAttribute('stroke-width', '1');
    const nl = addText(ts, 0, 3, 8, 'N', 0, 'middle');
    
    
    nl.setAttribute('font-weight', 'bold');
    nl.setAttribute('style', 'fill:#fff');
  }

  // frame and ticks
  let ticks = '';
  for(let lon = -90; lon <= 90; lon += 10){
    const x = f1(xScale(i,lon)), major = lonTicks.indexOf(lon) >= 0;
    ticks += 'M'+x+' '+(T-(major?6:3))+'V'+T+'M'+x+' '+(T+PANEL_H)+'V'+(T+PANEL_H+(major?6:3));
  }
  for(let lat = -10; lat <= 30; lat += 5){
    const y = f1(yScale(i,lat)), major = latTicks.indexOf(lat) >= 0;
    ticks += 'M'+(L-(major?6:3))+' '+y+'H'+L+'M'+(L+PANEL_W)+' '+y+'H'+(L+PANEL_W+(major?6:3));
  }
  const tk = el('path', g);
  
  
  tk.setAttribute('d', ticks);
  tk.setAttribute('stroke', '#000');
  tk.setAttribute('stroke-width', '1.6');
  tk.setAttribute('fill', 'none');

  const frame = el('rect', g);
  
  
  frame.setAttribute('x', L); frame.setAttribute('y', T); frame.setAttribute('width', PANEL_W); frame.setAttribute('height', PANEL_H);
  frame.setAttribute('fill', 'none');
  frame.setAttribute('stroke', '#000');
  frame.setAttribute('stroke-width', '3');

  // titles
  const title = panelTitles[i];
  const tt = addText(g, L-(title.length > 14 ? 0.5 : 0), T-8, 33, title, title.length > 14 ? 256 : 218);
  
  

  // left axis labels, first column only
  if(i < 4){
    latTicks.forEach((lat, k) => {
      const str = latTickLabels[k];
      const lbl = addText(g, 73, yScale(i,lat)+12, 33, str, str.length > 1 ? 62 : 18, 'end');
      
      
    });
  }
  // bottom axis labels, last row only
  if(i % 4 === 3){
    lonTicks.forEach((lon, k) => {
      const str = lonTickLabels[k];
      const lbl = addText(g, xScale(i,lon), 910, 33, str, str.length > 1 ? (str === '60W' ? 71 : 61) : 18, 'middle');
      
      
    });
  }
});

// panel tags
const tagObs = addText(root, 737, 31, 33, 'Observed', 150, 'end');


const tagCfs = addText(root, 1478, 31, 33, 'CFS Forecast', 213, 'end');



// ---- Colorbar ----
const cbar = document.getElementById('colorbar');
const CB_X = 229, CB_W = 604 / colorbarColors.length;
colorbarColors.forEach((col, k) => {
  const r = el('rect', cbar);
  
  
  r.setAttribute('x', CB_X + k*CB_W);
  r.setAttribute('y', 972);
  r.setAttribute('width', CB_W);
  r.setAttribute('height', 22.5);
  r.setAttribute('fill', col);
  r.setAttribute('stroke', '#000');
  r.setAttribute('stroke-width', '1.3');
});
colorbarLabels.forEach((str, k) => {
  const t = addText(cbar, CB_X + (k+1)*CB_W, 1023, 29, str, 0, 'middle');
  
  
});
</script>
</body>
</html>
